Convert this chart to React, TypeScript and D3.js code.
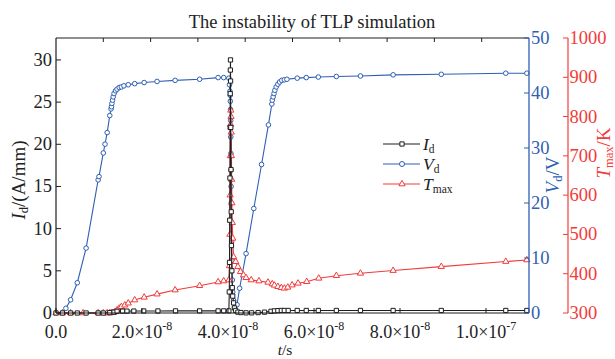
import React from "react";
import * as d3 from "d3";

// time in ns
const tV = [1.5, 2.3, 3.4, 4.95, 7.0, 9.8, 10.0, 11.0, 11.4, 11.9, 12.5, 12.8, 12.9, 13.0, 13.15, 13.3, 13.5, 13.85, 14.2, 14.7, 15.2, 15.8, 16.8, 18.3, 20.5, 23.5, 27.7, 33.4, 37.7, 39.0, 40.2, 40.35, 40.45, 40.5, 40.55, 40.6, 40.62, 40.65, 40.68, 40.7, 40.72, 40.75, 40.8, 40.85, 40.9, 41.0, 41.1, 41.3, 41.5, 41.8, 42.1, 42.7, 44.2, 46.0, 47.8, 49.4, 50.2, 50.3, 50.5, 50.7, 50.9, 51.2, 51.6, 52.0, 52.5, 53.1, 53.7, 56.1, 58.2, 61.0, 65.2, 70.8, 78.4, 89.6, 104.6, 109.5];
const vd = [0.05, 0.85, 2.4, 5.5, 11.8, 24.2, 24.8, 29.1, 30.7, 32.8, 35.9, 37.1, 37.5, 38.1, 38.7, 39.3, 39.9, 40.4, 40.7, 41.0, 41.1, 41.3, 41.5, 41.7, 41.9, 42.1, 42.3, 42.5, 42.8, 42.8, 42.7, 41.5, 40.3, 39.6, 38.5, 37.0, 35.0, 32.0, 29.0, 26.0, 23.0, 20.0, 16.5, 13.0, 9.5, 6.0, 3.8, 2.3, 1.0, 0.4, 1.5, 4.5, 10.8, 19.0, 27.0, 34.2, 38.0, 38.7, 39.3, 39.9, 40.5, 41.1, 41.6, 42.0, 42.3, 42.4, 42.5, 42.7, 42.8, 42.9, 43.0, 43.1, 43.3, 43.4, 43.6, 43.6];

const tI = [0, 1.5, 3.4, 4.95, 7.0, 9.8, 11.0, 12.5, 13.5, 14.2, 15.5, 16.5, 18.1, 20.4, 23.7, 27.8, 33.4, 37.7, 39.0, 40.2, 40.3, 40.35, 40.4, 40.45, 40.5, 40.52, 40.55, 40.58, 40.6, 40.65, 40.7, 40.75, 40.8, 40.9, 41.0, 41.1, 41.3, 41.5, 41.8, 42.3, 43.0, 44.2, 45.5, 47.0, 48.5, 50.0, 50.8, 51.6, 52.4, 53.1, 54.0, 56.1, 58.2, 61.0, 65.2, 70.8, 78.4, 89.6, 104.6, 109.5];
const id = [0, 0, 0, 0, 0, 0, 0, 0.05, 0.1, 0.2, 0.22, 0.22, 0.23, 0.24, 0.24, 0.25, 0.25, 0.25, 0.25, 0.25, 2.5, 6, 11, 16, 22, 26, 28.8, 30.0, 27.5, 22, 17, 12, 8, 5, 3, 2, 1.2, 0.6, 0.3, 0.1, 0.05, 0.02, 0.02, 0.05, 0.1, 0.2, 0.25, 0.28, 0.3, 0.3, 0.3, 0.3, 0.3, 0.3, 0.3, 0.3, 0.3, 0.3, 0.3, 0.3];

const tT = [0, 1.5, 3.4, 6.3, 9.8, 11.0, 11.9, 12.5, 12.9, 13.3, 13.7, 14.2, 14.7, 15.2, 16.0, 16.8, 18.3, 20.5, 23.5, 27.7, 33.4, 37.7, 39.0, 40.2, 40.35, 40.45, 40.5, 40.55, 40.6, 40.65, 40.7, 40.75, 40.8, 40.85, 40.9, 41.0, 41.1, 41.3, 41.8, 42.3, 42.9, 43.6, 44.2, 45.4, 47.2, 49.3, 50.3, 50.8, 51.6, 52.4, 53.1, 53.9, 54.9, 56.3, 58.3, 61.1, 65.2, 70.8, 78.4, 89.6, 104.6, 109.5];
const tmax = [300, 300, 300, 300, 300, 300, 300, 300, 300.5, 301, 303, 307.6, 312, 316, 320, 325, 333, 340, 348, 358.5, 369.5, 379, 381.5, 384, 420, 500, 600, 700, 780, 816, 800, 760, 700, 640, 580, 530, 490, 443, 430.6, 418, 405, 396.7, 389.8, 384, 381.4, 378, 373.8, 370.5, 367, 364.4, 362.9, 365.4, 371, 375.6, 379.7, 388.3, 395, 401, 408, 418, 431, 435];

const yITicks = [0, 5, 10, 15, 20, 25, 30];
const yVTicks = [0, 10, 20, 30, 40, 50];
const yTTicks = [300, 400, 500, 600, 700, 800, 900, 1000];
const xTicks = [0, 2e-8, 4e-8, 6e-8, 8e-8, 1e-7];
const xTickMant = ["0.0", "2.0", "4.0", "6.0", "8.0", "1.0"];
const xTickExp = ["", "-8", "-8", "-8", "-8", "-7"];
const topTicks = d3.range(1, 10).map((k) => k * 1.1e-8);

const BLACK = "#1e1e1e";
const BLUE = "#2f5fb3";
const RED = "#f23b3b";
const FONT = "Liberation Serif, Tinos, Times New Roman, DejaVu Serif, serif";
const FS = 18.5;

export default function App() {
  const L = 56, R = 529, T = 38, B = 313;
  const x = d3.scaleLinear().domain([0, 1.1e-7]).range([L, R]);
  const yI = d3.scaleLinear().domain([0, 32.6]).range([B, T]);
  const yV = d3.scaleLinear().domain([0, 50]).range([B, T]);
  const yT = d3.scaleLinear().domain([300, 1000]).range([B, T]);
  const RX = 568;

  const ptsV = tV.map((t, i) => [x(t * 1e-9), yV(vd[i])] as [number, number]);
  const ptsI = tI.map((t, i) => [x(t * 1e-9), yI(id[i])] as [number, number]);
  const ptsT = tT.map((t, i) => [x(t * 1e-9), yT(tmax[i])] as [number, number]);
  const line = d3.line();
  const tri = d3.symbol(d3.symbolTriangle, 17)()!;
  const sq = d3.symbol(d3.symbolSquare, 18)()!;
  const ts = { fontFamily: FONT };

  return (
    <svg width={615} height={359} style={{ position: "absolute", left: 0, top: 0, fontFamily: FONT }}>
      <rect width={615} height={359} fill="#fff" />
      <text style={ts} x={312} y={28} textAnchor="middle" fontSize={18.5} fill="#222">The instability of TLP simulation</text>

      {/* series */}
      <path d={line(ptsV)!} fill="none" stroke={BLUE} strokeWidth={1.1} />
      {ptsV.map((p, i) => (
        <circle key={"v" + i} cx={p[0]} cy={p[1]} r={2.3} fill="#fff" stroke={BLUE} strokeWidth={1} />
      ))}
      <path d={line(ptsT)!} fill="none" stroke={RED} strokeWidth={1.1} />
      {ptsT.map((p, i) => (
        <path key={"t" + i} d={tri} transform={`translate(${p[0]},${p[1]})`} fill="#fff" stroke={RED} strokeWidth={1} />
      ))}
      <path d={line(ptsI)!} fill="none" stroke={BLACK} strokeWidth={1.1} />
      {ptsI.map((p, i) => (
        <path key={"i" + i} d={sq} transform={`translate(${p[0]},${p[1]})`} fill="#fff" stroke={BLACK} strokeWidth={1} />
      ))}

      {/* frame */}
      <line x1={L} x2={R} y1={T} y2={T} stroke={BLACK} strokeWidth={1.2} />
      <line x1={L} x2={R} y1={B} y2={B} stroke={BLACK} strokeWidth={1.2} />
      <line x1={L} x2={L} y1={T} y2={B} stroke={BLACK} strokeWidth={1.2} />
      {topTicks.map((v, i) => (
        <line key={"tt" + i} x1={x(v)} x2={x(v)} y1={T} y2={T + 4} stroke={BLACK} strokeWidth={1} />
      ))}

      {/* bottom axis */}
      {xTicks.map((v, i) => (
        <g key={"x" + i}>
          <line x1={x(v)} x2={x(v)} y1={B} y2={B - 5} stroke={BLACK} strokeWidth={1} />
          <text style={ts} x={x(v)} y={337.5} textAnchor="middle" fontSize={18} fill="#222">
            {xTickMant[i]}
            {xTickExp[i] ? (
              <>
                <tspan>×10</tspan>
                <tspan fontSize={12} dy={-8}>{xTickExp[i]}</tspan>
              </>
            ) : null}
          </text>
        </g>
      ))}
      <text style={ts} x={285} y={355} textAnchor="middle" fontSize={15.5} fill="#222">
        <tspan fontStyle="italic">t</tspan>/s
      </text>

      {/* left axis */}
      {yITicks.map((v, i) => (
        <g key={"yi" + i}>
          <line x1={L} x2={L + 5} y1={yI(v)} y2={yI(v)} stroke={BLACK} strokeWidth={1} />
          <text style={ts} x={52} y={yI(v) + 6} textAnchor="end" fontSize={FS} fill="#222">{v}</text>
        </g>
      ))}
      <text style={ts} transform="translate(25,180) rotate(-90)" textAnchor="middle" fontSize={19} fill="#222">
        <tspan fontStyle="italic">I</tspan>
        <tspan fontSize={12.5} dy={3}>d</tspan>
        <tspan dy={-3}>/(A/mm)</tspan>
      </text>

      {/* blue right axis */}
      <line x1={R} x2={R} y1={T} y2={B} stroke={BLUE} strokeWidth={1.3} />
      {yVTicks.map((v, i) => (
        <g key={"yv" + i}>
          <line x1={R} x2={R - 5} y1={yV(v)} y2={yV(v)} stroke={BLUE} strokeWidth={1} />
          <text style={ts} x={531} y={yV(v) + 6} fontSize={FS} fill={BLUE}>{v}</text>
        </g>
      ))}
      <text style={ts} transform="translate(559,175) rotate(-90)" textAnchor="middle" fontSize={19} fill={BLUE}>
        <tspan fontStyle="italic">V</tspan>
        <tspan fontSize={12.5} dy={3}>d</tspan>
        <tspan dy={-3}>/V</tspan>
      </text>

      {/* red right axis */}
      <line x1={RX} x2={RX} y1={T} y2={B} stroke={RED} strokeWidth={1.2} />
      {yTTicks.map((v, i) => (
        <g key={"yt" + i}>
          <line x1={RX} x2={RX - 5} y1={yT(v)} y2={yT(v)} stroke={RED} strokeWidth={1} />
          <text style={ts} x={569.5} y={yT(v) + 6} fontSize={FS} fill={RED}>{v}</text>
        </g>
      ))}
      <text style={ts} transform="translate(610,153) rotate(-90)" textAnchor="middle" fontSize={19} fill={RED}>
        <tspan fontStyle="italic">T</tspan>
        <tspan fontSize={12.5} dy={2.5}>max</tspan>
        <tspan dy={-2.5}>/K</tspan>
      </text>

      {/* legend */}
      {[
        { c: BLACK, m: "sq", main: "I", sub: "d" },
        { c: BLUE, m: "ci", main: "V", sub: "d" },
        { c: RED, m: "tr", main: "T", sub: "max" },
      ].map((e, i) => {
        const yy = 144 + i * 20;
        return (
          <g key={"lg" + i}>
            <line x1={383} x2={420} y1={yy} y2={yy} stroke={e.c} strokeWidth={1.1} />
            {e.m === "sq" ? (
              <path d={sq} transform={`translate(402,${yy})`} fill="#fff" stroke={e.c} strokeWidth={1} />
            ) : e.m === "ci" ? (
              <circle cx={402} cy={yy} r={2.5} fill="#fff" stroke={e.c} strokeWidth={1} />
            ) : (
              <path d={tri} transform={`translate(402,${yy})`} fill="#fff" stroke={e.c} strokeWidth={1} />
            )}
            <text style={ts} x={423} y={yy + 6} fontSize={17.5} fill="#222">
              <tspan fontStyle="italic">{e.main}</tspan>
              <tspan fontSize={11.5} dy={2.5}>{e.sub}</tspan>
            </text>
          </g>
        );
      })}
    </svg>
  );
}
